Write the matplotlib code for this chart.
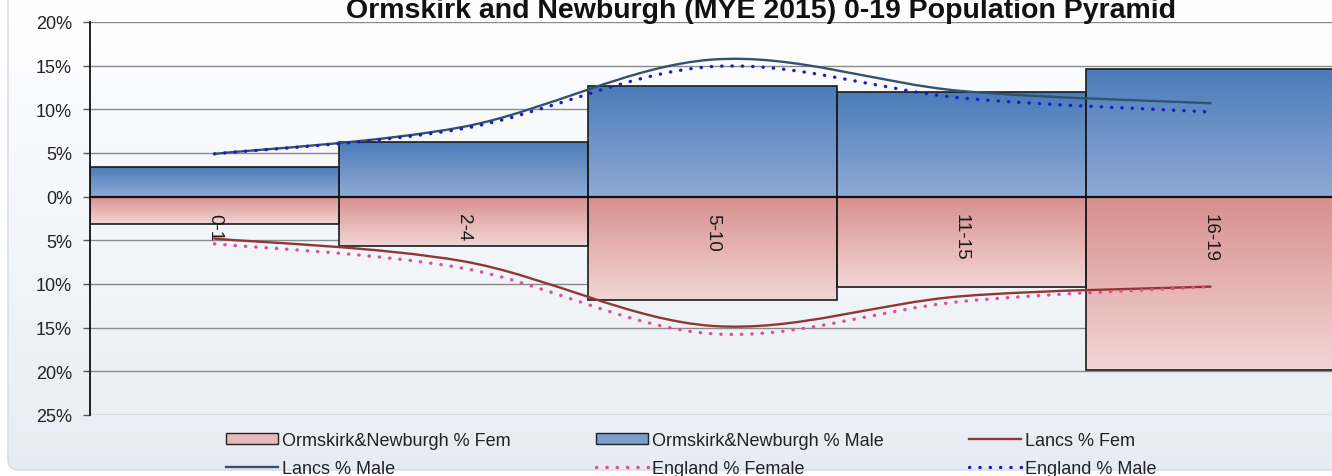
import numpy as np
import matplotlib
matplotlib.use("Agg")
import matplotlib.pyplot as plt
from matplotlib.path import Path
from matplotlib.patches import PathPatch, Patch, FancyBboxPatch
from matplotlib.lines import Line2D
from matplotlib.colors import LinearSegmentedColormap

# ---------------- data ----------------
categories = ['0-1', '2-4', '5-10', '11-15', '16-19']
ons_male = [3.4, 6.3, 12.7, 12.0, 14.6]        # Ormskirk&Newburgh % Male
ons_fem = [3.1, 5.7, 11.8, 10.4, 19.9]         # Ormskirk&Newburgh % Fem
lancs_male = [4.9, 8.0, 15.7, 12.1, 10.7]
lancs_fem = [4.8, 7.4, 14.8, 11.4, 10.3]
eng_male = [4.9, 7.8, 14.9, 11.3, 9.7]
eng_fem = [5.4, 8.2, 15.7, 12.0, 10.3]
yticks = [20, 15, 10, 5, 0, -5, -10, -15, -20, -25]
title = 'Ormskirk and Newburgh (MYE 2015) 0-19 Population Pyramid'

plt.rcParams['font.family'] = ['Liberation Sans', 'DejaVu Sans']

W, H = 1332, 477
fig = plt.figure(figsize=(W / 100, H / 100), dpi=100)

# ---------------- background ----------------
bg = fig.add_axes([0, 0, 1, 1], zorder=-10)
bg.set_xlim(0, W)
bg.set_ylim(H, 0)
bg.axis('off')
frame = FancyBboxPatch((8, -30), W + 40, H + 24, boxstyle='round,pad=0,rounding_size=10',
                       facecolor='none', edgecolor='#d5dae2', lw=1.0)
bg.add_patch(frame)
bgcmap = LinearSegmentedColormap.from_list('bg', ['#ffffff', '#e7ecf4'])
grad = np.linspace(0, 1, 256).reshape(-1, 1)
im = bg.imshow(grad, extent=[0, W + 60, H, 0], aspect='auto', cmap=bgcmap, origin='upper')
im.set_clip_path(frame)
bg.set_xlim(0, W)
bg.set_ylim(H, 0)

# ---------------- main axes ----------------
left = 90 / W
bottom = 1 - 416 / H
top = 1 - 23 / H
ax = fig.add_axes([left, bottom, 1245 / W, top - bottom])
ax.patch.set_alpha(0)

x = np.arange(len(categories))

male_cmap = LinearSegmentedColormap.from_list('m', ['#4a7cba', '#6e93c7', '#8eaad5'])
fem_cmap = LinearSegmentedColormap.from_list('f', ['#d68f8d', '#e5b3b2', '#f1d6d5'])

mbars = ax.bar(x, ons_male, width=1.0, facecolor='none', edgecolor='#1c1c1c', lw=1.2, zorder=4)
fbars = ax.bar(x, [-v for v in ons_fem], width=1.0, facecolor='none', edgecolor='#1c1c1c', lw=1.2, zorder=4)

for bars, cmap in ((mbars, male_cmap), (fbars, fem_cmap)):
    for p in bars:
        x0 = p.get_x()
        w = p.get_width()
        y0 = p.get_y()
        h = p.get_height()
        ylo, yhi = min(y0, y0 + h), max(y0, y0 + h)
        gim = ax.imshow(grad, extent=[x0, x0 + w, ylo, yhi], aspect='auto', cmap=cmap,
                        origin='upper', zorder=3)
        gim.set_clip_path(p)


def smooth_path(xs, ys):
    pts = list(zip(xs, ys))
    n = len(pts)
    verts = [pts[0]]
    codes = [Path.MOVETO]
    for i in range(n - 1):
        p0 = pts[i - 1] if i > 0 else pts[i]
        p1 = pts[i]
        p2 = pts[i + 1]
        p3 = pts[i + 2] if i + 2 < n else pts[i + 1]
        c1 = (p1[0] + (p2[0] - p0[0]) / 6, p1[1] + (p2[1] - p0[1]) / 6)
        c2 = (p2[0] - (p3[0] - p1[0]) / 6, p2[1] - (p3[1] - p1[1]) / 6)
        verts += [c1, c2, p2]
        codes += [Path.CURVE4] * 3
    return Path(verts, codes)


dot = (0, (0.1, 3.0))
series = [
    (lancs_male, 1, '#34526f', '-', 1.7),
    (lancs_fem, -1, '#923634', '-', 1.7),
    (eng_male, 1, '#1c1cc4', dot, 2.4),
    (eng_fem, -1, '#dd4f90', dot, 2.4),
]
for vals, sign, col, ls, lw in series:
    path = smooth_path(x, [sign * v for v in vals])
    pp = PathPatch(path, fill=False, edgecolor=col, lw=lw, linestyle=ls,
                   capstyle='round', joinstyle='round', zorder=5)
    ax.add_patch(pp)

for i, c in enumerate(categories):
    ax.text(i, -1.9, c, rotation=270, ha='center', va='top', fontsize=13.5,
            color='#1a1a1a', zorder=6)

ax.set_xlim(-0.5, 4.5)
ax.set_ylim(-25, 20)
ax.set_yticks(yticks)
ax.set_yticklabels([f'{abs(t)}%' for t in yticks], fontsize=13, color='#222222')
ax.set_xticks([])
ax.yaxis.grid(True, color='#8a8a8a', lw=1.0, zorder=0)
ax.set_axisbelow(True)
ax.tick_params(axis='y', length=5, width=1.0, color='#555555', pad=8)
for s in ('top', 'right', 'bottom'):
    ax.spines[s].set_visible(False)
ax.spines['left'].set_color('#111111')
ax.spines['left'].set_linewidth(1.3)
ax.spines['left'].set_zorder(6)
ax.axhline(0, color='#111111', lw=1.6, zorder=5)

# ---------------- title ----------------
fig.text(761 / W, 1 - 18 / H, title, ha='center', va='baseline', fontsize=20.5,
         fontweight='bold', color='#111111')

# ---------------- legend ----------------
h_fem = Patch(facecolor='#e8b9b8', edgecolor='#222222', lw=1.0)
h_male = Patch(facecolor='#7b9dcc', edgecolor='#222222', lw=1.0)
h_lf = Line2D([], [], color='#923634', lw=1.7)
h_lm = Line2D([], [], color='#34526f', lw=1.7)
h_ef = Line2D([], [], color='#dd4f90', lw=2.4, linestyle=dot, dash_capstyle='round')
h_em = Line2D([], [], color='#1c1cc4', lw=2.4, linestyle=dot, dash_capstyle='round')
handles = [h_fem, h_lm, h_male, h_ef, h_lf, h_em]
labels = ['Ormskirk&Newburgh % Fem', 'Lancs % Male', 'Ormskirk&Newburgh % Male',
          'England % Female', 'Lancs % Fem', 'England % Male']
leg = fig.legend(handles, labels, ncol=3, loc='upper left',
                 bbox_to_anchor=(226 / W, 1 - 433 / H), frameon=False,
                 fontsize=13, handlelength=2.9, handleheight=0.5, handletextpad=0.22,
                 columnspacing=4.7, labelspacing=0.62, borderpad=0, borderaxespad=0)
for t in leg.get_texts():
    t.set_color('#222222')

fig.savefig('out.png', dpi=100)
